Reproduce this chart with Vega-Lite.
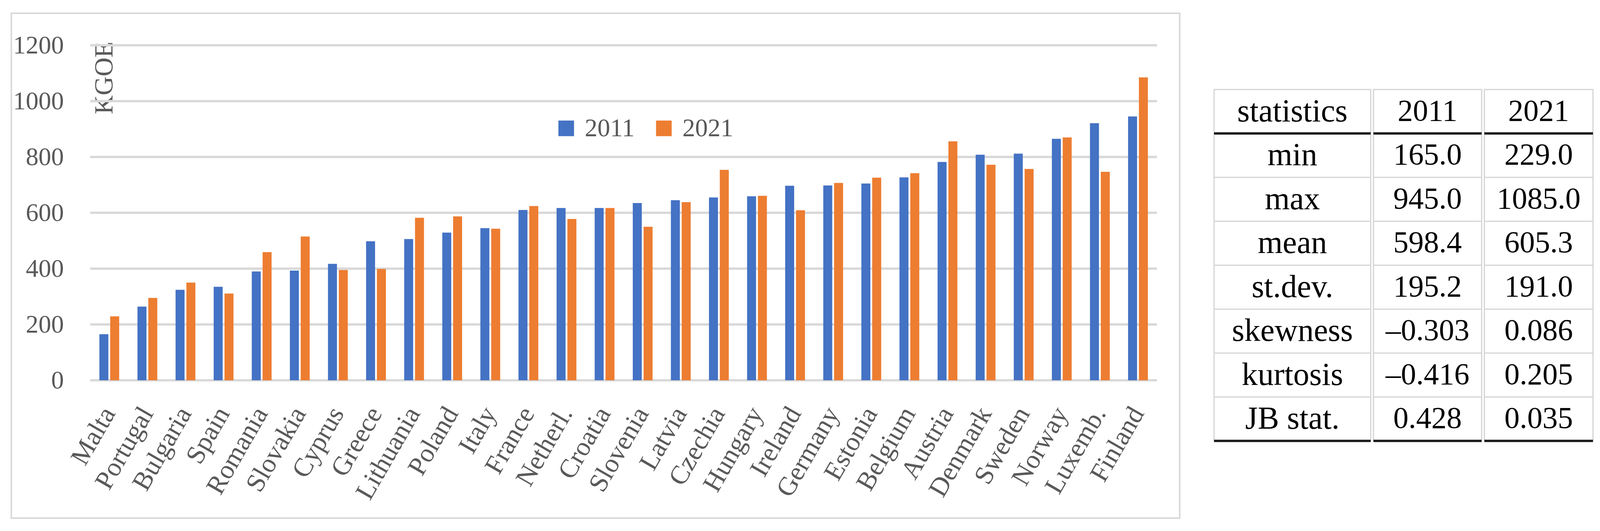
{
  "$schema": "https://vega.github.io/schema/vega-lite/v6.json",
  "padding": {"left": 27, "top": 32, "right": 10, "bottom": 10},
  "background": "white",
  "datasets": {
    "bars": [
      {"country": "Malta", "year": "2011", "value": 165}, {"country": "Malta", "year": "2021", "value": 229},
      {"country": "Portugal", "year": "2011", "value": 264}, {"country": "Portugal", "year": "2021", "value": 295},
      {"country": "Bulgaria", "year": "2011", "value": 324}, {"country": "Bulgaria", "year": "2021", "value": 350},
      {"country": "Spain", "year": "2011", "value": 335}, {"country": "Spain", "year": "2021", "value": 311},
      {"country": "Romania", "year": "2011", "value": 390}, {"country": "Romania", "year": "2021", "value": 459},
      {"country": "Slovakia", "year": "2011", "value": 393}, {"country": "Slovakia", "year": "2021", "value": 515},
      {"country": "Cyprus", "year": "2011", "value": 417}, {"country": "Cyprus", "year": "2021", "value": 395},
      {"country": "Greece", "year": "2011", "value": 498}, {"country": "Greece", "year": "2021", "value": 399},
      {"country": "Lithuania", "year": "2011", "value": 506}, {"country": "Lithuania", "year": "2021", "value": 582},
      {"country": "Poland", "year": "2011", "value": 529}, {"country": "Poland", "year": "2021", "value": 587},
      {"country": "Italy", "year": "2011", "value": 545}, {"country": "Italy", "year": "2021", "value": 543},
      {"country": "France", "year": "2011", "value": 610}, {"country": "France", "year": "2021", "value": 624},
      {"country": "Netherl.", "year": "2011", "value": 617}, {"country": "Netherl.", "year": "2021", "value": 578},
      {"country": "Croatia", "year": "2011", "value": 617}, {"country": "Croatia", "year": "2021", "value": 617},
      {"country": "Slovenia", "year": "2011", "value": 635}, {"country": "Slovenia", "year": "2021", "value": 550},
      {"country": "Latvia", "year": "2011", "value": 645}, {"country": "Latvia", "year": "2021", "value": 638},
      {"country": "Czechia", "year": "2011", "value": 655}, {"country": "Czechia", "year": "2021", "value": 754},
      {"country": "Hungary", "year": "2011", "value": 659}, {"country": "Hungary", "year": "2021", "value": 661},
      {"country": "Ireland", "year": "2011", "value": 697}, {"country": "Ireland", "year": "2021", "value": 609},
      {"country": "Germany", "year": "2011", "value": 698}, {"country": "Germany", "year": "2021", "value": 707},
      {"country": "Estonia", "year": "2011", "value": 705}, {"country": "Estonia", "year": "2021", "value": 726},
      {"country": "Belgium", "year": "2011", "value": 727}, {"country": "Belgium", "year": "2021", "value": 742},
      {"country": "Austria", "year": "2011", "value": 782}, {"country": "Austria", "year": "2021", "value": 856},
      {"country": "Denmark", "year": "2011", "value": 808}, {"country": "Denmark", "year": "2021", "value": 772},
      {"country": "Sweden", "year": "2011", "value": 812}, {"country": "Sweden", "year": "2021", "value": 757},
      {"country": "Norway", "year": "2011", "value": 865}, {"country": "Norway", "year": "2021", "value": 870},
      {"country": "Luxemb.", "year": "2011", "value": 921}, {"country": "Luxemb.", "year": "2021", "value": 747},
      {"country": "Finland", "year": "2011", "value": 945}, {"country": "Finland", "year": "2021", "value": 1085}
    ],
    "ticks": [{"tick": 0}, {"tick": 200}, {"tick": 400}, {"tick": 600}, {"tick": 800}, {"tick": 1000}, {"tick": 1200}],
    "stats": [
      {"stat": "statistics", "v2011": "2011", "v2021": "2021"},
      {"stat": "min", "v2011": "165.0", "v2021": "229.0"},
      {"stat": "max", "v2011": "945.0", "v2021": "1085.0"},
      {"stat": "mean", "v2011": "598.4", "v2021": "605.3"},
      {"stat": "st.dev.", "v2011": "195.2", "v2021": "191.0"},
      {"stat": "skewness", "v2011": "–0.303", "v2021": "0.086"},
      {"stat": "kurtosis", "v2011": "–0.416", "v2021": "0.205"},
      {"stat": "JB stat.", "v2011": "0.428", "v2021": "0.035"}
    ]
  },
  "spacing": 81,
  "center": true,
  "hconcat": [
    {
      "width": 2991,
      "height": 1293,
      "view": {"stroke": "#d9d9d9", "strokeWidth": 4},
      "layer": [
        {
          "data": {"name": "ticks"},
          "mark": {"type": "rule", "color": "#d9d9d9", "strokeWidth": 6},
          "encoding": {
            "y": {"field": "tick", "type": "quantitative", "title": "KGOE"},
            "x": {"datum": 0, "type": "quantitative", "scale": {"domain": [0, 1], "range": [202, 2933]}, "axis": null},
            "x2": {"datum": 1}
          }
        },
        {
          "data": {"name": "bars"},
          "mark": {"type": "bar"},
          "encoding": {
            "x": {
              "field": "country", "type": "nominal", "sort": null,
              "scale": {"range": [202, 2933], "paddingInner": 0.48, "paddingOuter": 0.24},
              "axis": {
                "title": null, "offset": -353, "domain": false, "ticks": false,
                "labelAngle": -60, "labelAlign": "right", "labelBaseline": "middle",
                "labelPadding": 74, "labelFontSize": 68, "labelFont": "Liberation Serif",
                "labelColor": "#595959", "labelOverlap": false, "labelLimit": 1000
              }
            },
            "xOffset": {"field": "year", "type": "nominal", "scale": {"paddingInner": 0.17, "paddingOuter": 0}},
            "y": {
              "field": "value", "type": "quantitative", "title": "KGOE",
              "scale": {"domain": [0, 1200], "range": [940, 82], "nice": false},
              "axis": {
                "offset": -202, "values": [0, 200, 400, 600, 800, 1000, 1200], "format": "d",
                "grid": false, "domain": false, "ticks": false,
                "labelPadding": 68, "labelFontSize": 65, "labelFont": "Liberation Serif", "labelColor": "#595959",
                "titleFont": "Liberation Serif", "titleFontSize": 67, "titleFontWeight": "normal", "titleColor": "#595959",
                "titleAngle": -90, "titleX": 56, "titleY": 72, "titleAlign": "right", "titleBaseline": "alphabetic"
              }
            },
            "color": {
              "field": "year", "type": "nominal",
              "scale": {"domain": ["2011", "2021"], "range": ["#4472C4", "#ED7D31"]},
              "legend": {
                "orient": "none", "legendX": 1388, "legendY": 262, "direction": "horizontal", "title": null,
                "symbolType": "square", "symbolSize": 1600, "symbolStrokeWidth": 0,
                "labelFontSize": 65, "labelFont": "Liberation Serif", "labelColor": "#595959",
                "labelOffset": 15, "columnPadding": 42, "padding": 0
              }
            }
          }
        }
      ],
      "resolve": {"scale": {"x": "independent"}}
    },
    {
      "spacing": -3,
      "hconcat": [
        {
          "width": 401, "height": 900,
          "data": {"name": "stats"},
          "view": {"stroke": "#d4d4d4", "strokeWidth": 3},
          "encoding": {
            "y": {"field": "stat", "type": "nominal", "sort": null, "axis": null,
                  "scale": {"domain": ["statistics", "min", "max", "mean", "st.dev.", "skewness", "kurtosis", "JB stat."], "paddingInner": 0, "paddingOuter": 0}}
          },
          "layer": [
            {"transform": [{"filter": "datum.stat !== 'statistics' && datum.stat !== 'min'"}],
             "mark": {"type": "rule", "color": "#d4d4d4", "strokeWidth": 3},
             "encoding": {"y": {"field": "stat", "type": "nominal", "sort": null, "bandPosition": 0}}},
            {"transform": [{"filter": "datum.stat === 'min'"}],
             "mark": {"type": "rule", "color": "#1a1a1a", "strokeWidth": 6},
             "encoding": {"y": {"field": "stat", "type": "nominal", "sort": null, "bandPosition": 0}}},
            {"transform": [{"filter": "datum.stat === 'JB stat.'"}],
             "mark": {"type": "rule", "color": "#1a1a1a", "strokeWidth": 6},
             "encoding": {"y": {"field": "stat", "type": "nominal", "sort": null, "bandPosition": 1}}},
            {"mark": {"type": "text", "font": "Liberation Serif", "fontSize": 82, "color": "#000000", "baseline": "middle", "align": "center"},
             "encoding": {"text": {"field": "stat"}}}
          ]
        },
        {
          "width": 277, "height": 900,
          "data": {"name": "stats"},
          "view": {"stroke": "#d4d4d4", "strokeWidth": 3},
          "encoding": {
            "y": {"field": "stat", "type": "nominal", "sort": null, "axis": null,
                  "scale": {"domain": ["statistics", "min", "max", "mean", "st.dev.", "skewness", "kurtosis", "JB stat."], "paddingInner": 0, "paddingOuter": 0}}
          },
          "layer": [
            {"transform": [{"filter": "datum.stat !== 'statistics' && datum.stat !== 'min'"}],
             "mark": {"type": "rule", "color": "#d4d4d4", "strokeWidth": 3},
             "encoding": {"y": {"field": "stat", "type": "nominal", "sort": null, "bandPosition": 0}}},
            {"transform": [{"filter": "datum.stat === 'min'"}],
             "mark": {"type": "rule", "color": "#1a1a1a", "strokeWidth": 6},
             "encoding": {"y": {"field": "stat", "type": "nominal", "sort": null, "bandPosition": 0}}},
            {"transform": [{"filter": "datum.stat === 'JB stat.'"}],
             "mark": {"type": "rule", "color": "#1a1a1a", "strokeWidth": 6},
             "encoding": {"y": {"field": "stat", "type": "nominal", "sort": null, "bandPosition": 1}}},
            {"mark": {"type": "text", "font": "Liberation Serif", "fontSize": 78, "color": "#000000", "baseline": "middle", "align": "center"},
             "encoding": {"text": {"field": "v2011"}}}
          ]
        },
        {
          "width": 278, "height": 900,
          "data": {"name": "stats"},
          "view": {"stroke": "#d4d4d4", "strokeWidth": 3},
          "encoding": {
            "y": {"field": "stat", "type": "nominal", "sort": null, "axis": null,
                  "scale": {"domain": ["statistics", "min", "max", "mean", "st.dev.", "skewness", "kurtosis", "JB stat."], "paddingInner": 0, "paddingOuter": 0}}
          },
          "layer": [
            {"transform": [{"filter": "datum.stat !== 'statistics' && datum.stat !== 'min'"}],
             "mark": {"type": "rule", "color": "#d4d4d4", "strokeWidth": 3},
             "encoding": {"y": {"field": "stat", "type": "nominal", "sort": null, "bandPosition": 0}}},
            {"transform": [{"filter": "datum.stat === 'min'"}],
             "mark": {"type": "rule", "color": "#1a1a1a", "strokeWidth": 6},
             "encoding": {"y": {"field": "stat", "type": "nominal", "sort": null, "bandPosition": 0}}},
            {"transform": [{"filter": "datum.stat === 'JB stat.'"}],
             "mark": {"type": "rule", "color": "#1a1a1a", "strokeWidth": 6},
             "encoding": {"y": {"field": "stat", "type": "nominal", "sort": null, "bandPosition": 1}}},
            {"mark": {"type": "text", "font": "Liberation Serif", "fontSize": 78, "color": "#000000", "baseline": "middle", "align": "center"},
             "encoding": {"text": {"field": "v2021"}}}
          ]
        }
      ]
    }
  ],
  "config": {
    "font": "Liberation Serif",
    "axis": {"grid": false},
    "view": {"stroke": null}
  }
}
